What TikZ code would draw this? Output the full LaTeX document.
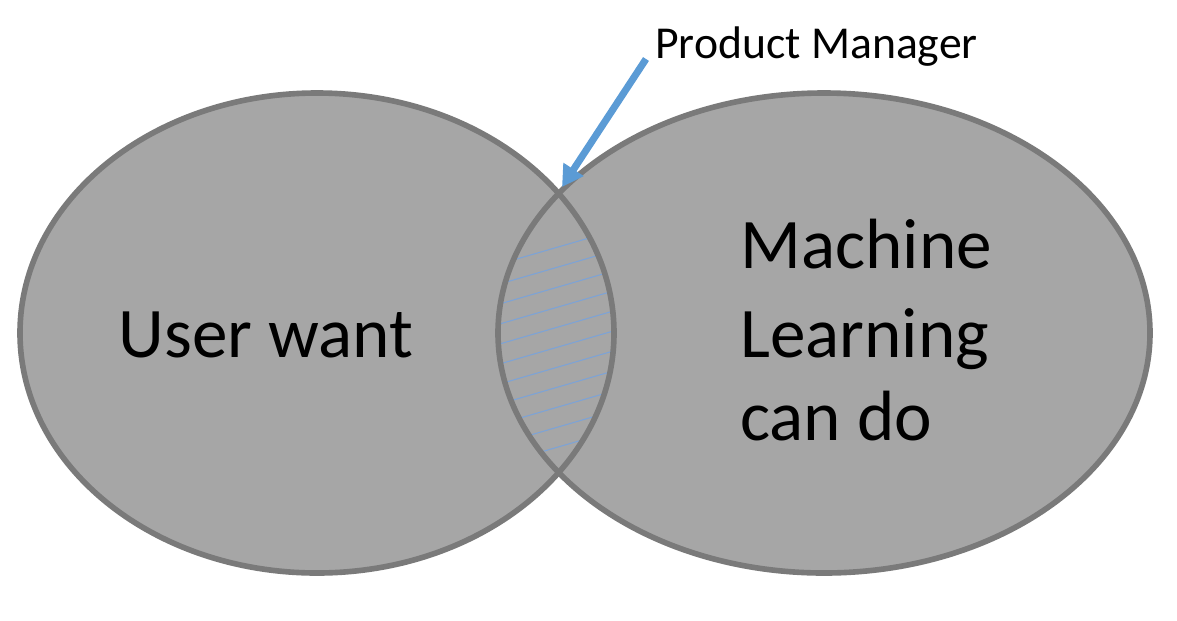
\documentclass[tikz,border=0pt]{standalone}
\usepackage{fontspec}
\setmainfont{Carlito}
\usetikzlibrary{arrows.meta}
\definecolor{vennfill}{HTML}{A6A6A6}
\definecolor{vennline}{HTML}{7A7A7A}
\definecolor{pmblue}{HTML}{5B9BD5}
\definecolor{hatchblue}{HTML}{7DA3D6}
\begin{document}
\begin{tikzpicture}[x=0.02cm,y=-0.02cm,
  vennstroke/.style={draw=vennline, line width=3.2pt},
  hatchline/.style={draw=hatchblue, line width=0.6pt},
  bigtext/.style={font=\fontsize{40.5}{48}\selectfont, inner sep=0pt, text=black},
  smalltext/.style={font=\fontsize{26}{31}\selectfont, inner sep=0pt, text=black, anchor=base west},
  pmarrow/.style={draw=pmblue, line width=4pt, -{Triangle[length=12pt,width=13pt]}}]
\useasboundingbox (0,0) rectangle (1177,620);
\coordinate (cl) at (317,333);
\coordinate (cr) at (824,333);
% fills
\fill[vennfill] (cl) ellipse [x radius=297, y radius=240];
\fill[vennfill] (cr) ellipse [x radius=326, y radius=240];
% hatching of the overlap
\begin{scope}
  \clip (cl) ellipse [x radius=297, y radius=240];
  \clip (cr) ellipse [x radius=326, y radius=240];
  \foreach \k in {0,...,10}{
    \draw[hatchline] (480,{245+20*\k+24.65}) -- (650,{245+20*\k-24.65});
  }
\end{scope}
% outlines
\draw[vennstroke] (cl) ellipse [x radius=297, y radius=240];
\draw[vennstroke] (cr) ellipse [x radius=326, y radius=240];
% texts
\node[bigtext, anchor=base] (user) at (266,357) {User want};
\node[bigtext, anchor=base west] (ml1) at (740,268) {Machine};
\node[bigtext, anchor=base west] (ml2) at (740,357) {Learning};
\node[bigtext, anchor=base west] (ml3) at (740,440) {can do};
\node[smalltext] (pm) at (655,58) {Product Manager};
% arrow
\coordinate (tail) at (646,59);
\coordinate (tip) at (562,187);
\draw[pmarrow] (tail) -- (tip);
\end{tikzpicture}
\end{document}
